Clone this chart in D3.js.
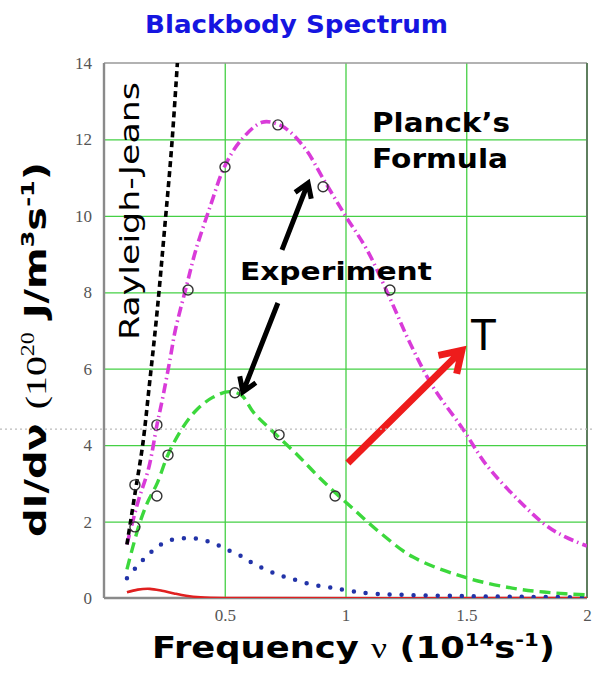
<!DOCTYPE html>
<html>
<head>
<meta charset="utf-8">
<script src="https://cdn.jsdelivr.net/npm/d3@7"></script>
<style>
  body { margin: 0; background: #fff; }
  svg { display: block; }
</style>
</head>
<body>
<div id="main"></div>
<script>
const freqTicks = [0.5, 1, 1.5, 2];
const intensityTicks = [0, 2, 4, 6, 8, 10, 12, 14];
const gridFreq = [0.5, 1, 1.5];
const gridIntensity = [2, 4, 6, 8, 10, 12];

// frequency (10^14 s^-1), dI/dv (10^20)
const rayleighJeans = [[0.095, 1.4], [0.13, 2.8], [0.16, 4.0], [0.19, 5.7], [0.22, 7.5], [0.25, 9.6], [0.28, 11.8], [0.31, 14.6]];
const planckHot = [[0.095, 1.4], [0.14, 2.5], [0.185, 3.4], [0.22, 4.55], [0.245, 5.3], [0.275, 6.3], [0.295, 7.0], [0.343, 8.2],
  [0.38, 9.1], [0.44, 10.25], [0.5, 11.3], [0.57, 12.0], [0.655, 12.45], [0.72, 12.4], [0.77, 12.2], [0.84, 11.7], [0.905, 11.0],
  [1.0, 10.0], [1.09, 9.1], [1.18, 7.9], [1.265, 6.7], [1.36, 5.55], [1.485, 4.43], [1.585, 3.47], [1.71, 2.6], [1.83, 1.9],
  [1.91, 1.6], [2.0, 1.36]];
const planckWarm = [[0.095, 0.75], [0.12, 1.35], [0.15, 2.0], [0.18, 2.5], [0.22, 3.0], [0.265, 3.75], [0.32, 4.4], [0.38, 4.9],
  [0.45, 5.25], [0.52, 5.4], [0.57, 5.3], [0.62, 4.85], [0.7, 4.35], [0.8, 3.75], [0.9, 3.1], [1.02, 2.4], [1.145, 1.7],
  [1.28, 1.07], [1.49, 0.55], [1.69, 0.26], [1.85, 0.14], [2.0, 0.08]];
const planckCool = [[0.095, 0.52], [0.133, 0.8], [0.178, 1.1], [0.219, 1.33], [0.269, 1.5], [0.323, 1.56], [0.373, 1.56],
  [0.422, 1.5], [0.472, 1.38], [0.522, 1.23], [0.576, 1.07], [0.621, 0.89], [0.675, 0.73], [0.725, 0.6], [0.77, 0.52],
  [0.82, 0.42], [0.87, 0.34], [0.923, 0.29], [0.969, 0.24], [1.027, 0.18], [1.1, 0.12], [1.25, 0.08], [1.5, 0.05],
  [1.75, 0.03], [2.0, 0.02]];
const planckCold = [[0.095, 0.15], [0.14, 0.22], [0.19, 0.24], [0.24, 0.19], [0.29, 0.12], [0.34, 0.06], [0.4, 0.02], [0.5, 0], [2.0, 0]];
const experiment = [[0.128, 1.86], [0.128, 2.96], [0.219, 4.53], [0.219, 2.67], [0.265, 3.74], [0.348, 8.06], [0.501, 11.28],
  [0.72, 12.38], [0.907, 10.76], [1.184, 8.06], [0.542, 5.37], [0.725, 4.27], [0.957, 2.67]];

const svgWidth = 594;
const svgHeight = 674;
const margin = { top: 63, right: 7, bottom: 76, left: 104 };
const width = svgWidth - margin.left - margin.right;
const height = svgHeight - margin.top - margin.bottom;

const svg = d3.select("#main")
              .append("svg")
              .attr("width", svgWidth)
              .attr("height", svgHeight)
              .style("background", "#fff");

svg.append("defs")
   .append("clipPath")
   .attr("id", "plot-clip")
   .append("rect")
   .attr("width", width)
   .attr("height", height);

const xScale = d3.scaleLinear().domain([0, 2]).range([0, width]);
const yScale = d3.scaleLinear().domain([0, 14]).range([height, 0]);

const plot = svg.append("g").attr("transform", `translate(${margin.left},${margin.top})`);

// gridlines
plot.append("g")
    .call(d3.axisLeft(yScale).tickValues(gridIntensity).tickSize(-width).tickFormat(""))
    .call(g => g.select(".domain").remove())
    .selectAll("line")
    .attr("stroke", "#45d045")
    .attr("stroke-width", 1.3);

plot.append("g")
    .attr("transform", `translate(0,${height})`)
    .call(d3.axisBottom(xScale).tickValues(gridFreq).tickSize(-height).tickFormat(""))
    .call(g => g.select(".domain").remove())
    .selectAll("line")
    .attr("stroke", "#45d045")
    .attr("stroke-width", 1.3);

// frame
plot.append("line").attr("x1", 0).attr("x2", width).attr("y1", 0).attr("y2", 0)
    .attr("stroke", "#999").attr("stroke-width", 1.6);
plot.append("line").attr("x1", width).attr("x2", width).attr("y1", 0).attr("y2", height)
    .attr("stroke", "#5f7f5f").attr("stroke-width", 2);

// tick labels
plot.append("g")
    .call(d3.axisLeft(yScale).tickValues(intensityTicks).tickSize(0).tickPadding(12))
    .call(g => g.select(".domain").remove())
    .selectAll("text")
    .attr("font-family", "'Liberation Serif', serif")
    .attr("font-size", 17)
    .attr("fill", "#555");

plot.append("g")
    .attr("transform", `translate(0,${height})`)
    .call(d3.axisBottom(xScale).tickValues(freqTicks).tickSize(0).tickPadding(11).tickFormat(d => String(d)))
    .call(g => g.select(".domain").remove())
    .selectAll("text")
    .attr("font-family", "'Liberation Serif', serif")
    .attr("font-size", 17)
    .attr("fill", "#555");

plot.append("line").attr("x1", 0).attr("x2", 0).attr("y1", 0).attr("y2", height)
    .attr("stroke", "#8a8a8a").attr("stroke-width", 2.4);
plot.append("line").attr("x1", 0).attr("x2", width).attr("y1", height).attr("y2", height)
    .attr("stroke", "#8a8a8a").attr("stroke-width", 2.4);

// faint dotted scan line across the picture
svg.append("line")
   .attr("x1", 0).attr("x2", svgWidth)
   .attr("y1", margin.top + yScale(4.42)).attr("y2", margin.top + yScale(4.42))
   .attr("stroke", "#bbb")
   .attr("stroke-width", 1.2)
   .attr("stroke-dasharray", "2,3");

const line = d3.line()
               .x(d => xScale(d[0]))
               .y(d => yScale(d[1]))
               .curve(d3.curveCatmullRom.alpha(0.5));

const curves = plot.append("g").attr("clip-path", "url(#plot-clip)");

curves.append("path").datum(planckCold)
      .attr("d", line).attr("fill", "none")
      .attr("stroke", "#e02020").attr("stroke-width", 2.6);

curves.append("path").datum(planckCool)
      .attr("d", line).attr("fill", "none")
      .attr("stroke", "#2233a8").attr("stroke-width", 4.5)
      .attr("stroke-linecap", "round")
      .attr("stroke-dasharray", "0,12");

curves.append("path").datum(planckWarm)
      .attr("d", line).attr("fill", "none")
      .attr("stroke", "#3cd83c").attr("stroke-width", 3.4)
      .attr("stroke-dasharray", "11,6");

curves.append("path").datum(planckHot)
      .attr("d", line).attr("fill", "none")
      .attr("stroke", "#d93bd9").attr("stroke-width", 3.6)
      .attr("stroke-dasharray", "10,4,1.5,4");

curves.append("path").datum(rayleighJeans)
      .attr("d", line).attr("fill", "none")
      .attr("stroke", "#000").attr("stroke-width", 3.6)
      .attr("stroke-dasharray", "6,4");

plot.selectAll(".exp")
    .data(experiment)
    .enter()
    .append("circle")
    .attr("class", "exp")
    .attr("cx", d => xScale(d[0]))
    .attr("cy", d => yScale(d[1]))
    .attr("r", 5)
    .attr("fill", "none")
    .attr("stroke", "#333")
    .attr("stroke-width", 1.4);

function drawArrow(from, to, color, w, head) {
  const x1 = xScale(from[0]), y1 = yScale(from[1]);
  const x2 = xScale(to[0]), y2 = yScale(to[1]);
  const a = Math.atan2(y2 - y1, x2 - x1);
  const spread = Math.PI / 5.5;
  const p = [x2 - head * Math.cos(a - spread), y2 - head * Math.sin(a - spread)];
  const q = [x2 - head * Math.cos(a + spread), y2 - head * Math.sin(a + spread)];
  plot.append("path")
      .attr("d", `M${x1},${y1}L${x2},${y2}M${p}L${x2},${y2}L${q}`)
      .attr("fill", "none")
      .attr("stroke", color)
      .attr("stroke-width", w)
      .attr("stroke-linejoin", "miter");
}

drawArrow([0.737, 9.11], [0.845, 10.86], "#000", 5, 16);
drawArrow([0.72, 7.72], [0.575, 5.39], "#000", 5, 16);
drawArrow([1.01, 3.53], [1.482, 6.48], "#ee1c1c", 7, 24);

// labels
const bold = "'DejaVu Sans', Verdana, sans-serif";

svg.append("text")
   .attr("x", 145).attr("y", 33)
   .attr("font-family", bold).attr("font-weight", "bold").attr("font-size", 25)
   .attr("fill", "#1515e0")
   .attr("textLength", 303).attr("lengthAdjust", "spacingAndGlyphs")
   .text("Blackbody Spectrum");

plot.append("text")
    .attr("x", xScale(0.563)).attr("y", yScale(8.32))
    .attr("font-family", bold).attr("font-weight", "bold").attr("font-size", 25)
    .attr("textLength", 192).attr("lengthAdjust", "spacingAndGlyphs")
    .text("Experiment");

plot.append("text")
    .attr("x", xScale(1.11)).attr("y", yScale(12.2))
    .attr("font-family", bold).attr("font-weight", "bold").attr("font-size", 26)
    .attr("textLength", 138).attr("lengthAdjust", "spacingAndGlyphs")
    .text("Planck\u2019s");

plot.append("text")
    .attr("x", xScale(1.11)).attr("y", yScale(11.25))
    .attr("font-family", bold).attr("font-weight", "bold").attr("font-size", 26)
    .attr("textLength", 136).attr("lengthAdjust", "spacingAndGlyphs")
    .text("Formula");

plot.append("text")
    .attr("x", xScale(1.516)).attr("y", yScale(6.49))
    .attr("font-family", "'Liberation Sans', Arial, sans-serif").attr("font-size", 44)
    .text("T");

plot.append("text")
    .attr("transform", `translate(${xScale(0.145)},${yScale(6.75)}) rotate(-90)`)
    .attr("font-family", bold).attr("font-size", 26)
    .attr("textLength", 258).attr("lengthAdjust", "spacingAndGlyphs")
    .text("Rayleigh-Jeans");

const xLabel = svg.append("text")
                  .attr("x", 152).attr("y", 658)
                  .attr("font-family", bold).attr("font-weight", "bold").attr("font-size", 30)
                  .attr("textLength", 403).attr("lengthAdjust", "spacingAndGlyphs");
xLabel.append("tspan").text("Frequency ");
xLabel.append("tspan").attr("font-family", "'Liberation Serif', serif").attr("font-weight", "normal").text("\u03bd");
xLabel.append("tspan").text(" (10");
xLabel.append("tspan").attr("font-size", 18).attr("dy", -12).text("14");
xLabel.append("tspan").attr("dy", 12).text("s");
xLabel.append("tspan").attr("font-size", 18).attr("dy", -12).text("-1");
xLabel.append("tspan").attr("dy", 12).text(")");

const yLabel = svg.append("text")
                  .attr("transform", "translate(46,537) rotate(-90)")
                  .attr("font-family", bold).attr("font-weight", "bold").attr("font-size", 30)
                  .attr("textLength", 375).attr("lengthAdjust", "spacingAndGlyphs");
yLabel.append("tspan").text("dI/d\u03bd ");
yLabel.append("tspan").attr("font-family", "'Liberation Serif', serif").attr("font-weight", "normal").text("(10");
yLabel.append("tspan").attr("font-family", "'Liberation Serif', serif").attr("font-weight", "normal")
      .attr("font-size", 18).attr("dy", -12).text("20");
yLabel.append("tspan").attr("dy", 12).text(" J/m");
yLabel.append("tspan").attr("font-size", 18).attr("dy", -12).text("3");
yLabel.append("tspan").attr("dy", 12).text("s");
yLabel.append("tspan").attr("font-size", 18).attr("dy", -12).text("-1");
yLabel.append("tspan").attr("dy", 12).text(")");
</script>
</body>
</html>
